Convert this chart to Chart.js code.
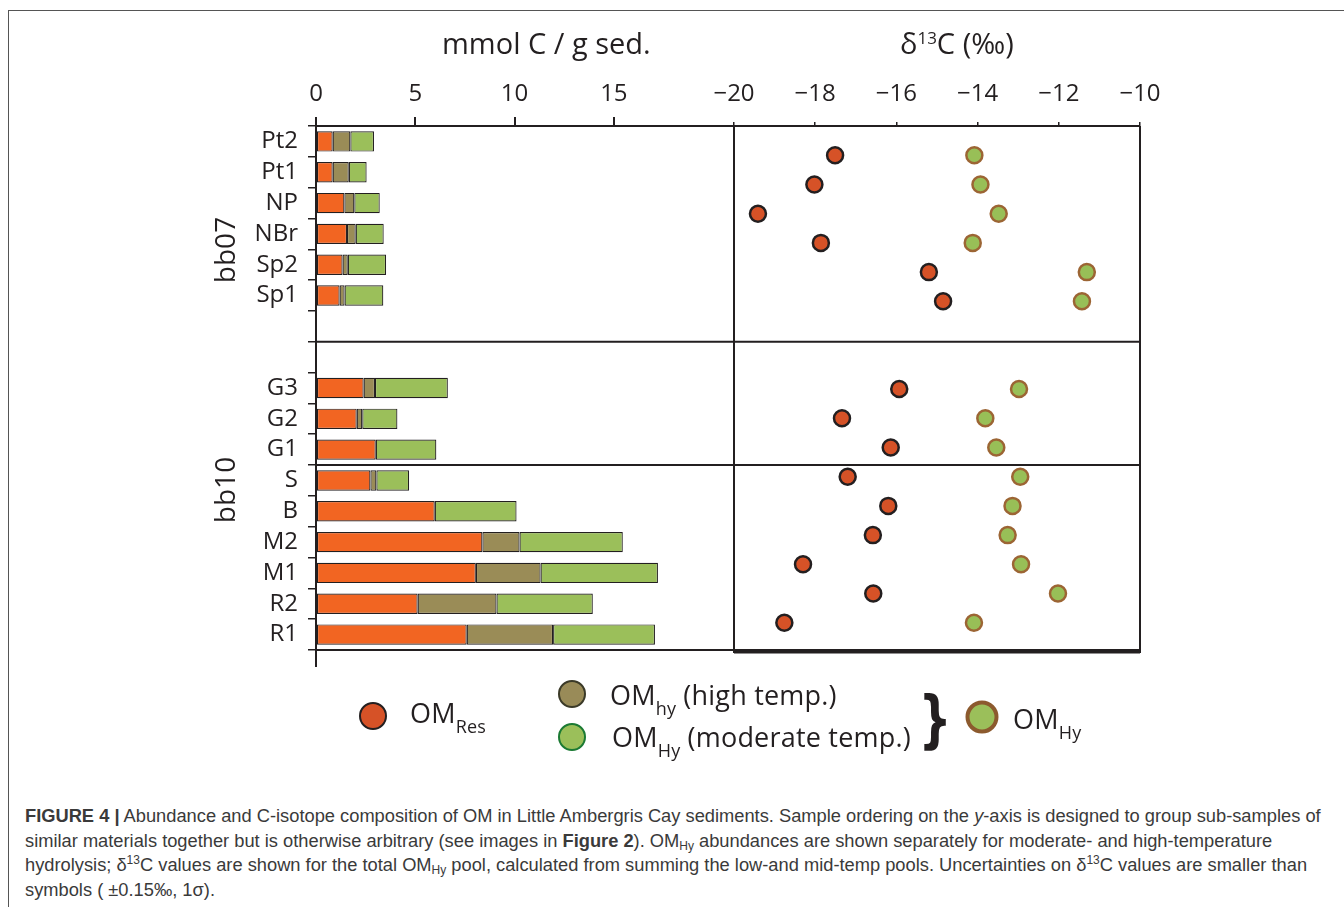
<!DOCTYPE html>
<html>
<head>
<meta charset="utf-8">
<script src="https://cdn.jsdelivr.net/npm/chart.js@4.4.0/dist/chart.umd.min.js"></script>
<style>
  html, body { margin: 0; padding: 0; background: #fff; }
  body { width: 1344px; height: 907px; position: relative; overflow: hidden; font-family: "Open Sans", sans-serif; color: #231f20; }
  .frame { position: absolute; left: 8px; top: 10px; width: 1400px; height: 950px; border-left: 1.5px solid #555; border-top: 1.5px solid #555; }
  canvas { position: absolute; left: 0; top: 0; }
  .axtitle { position: absolute; font-size: 29px; line-height: 34px; white-space: nowrap; }
  .axtitle sup { font-size: 17px; vertical-align: 10px; line-height: 0; }
  .group { position: absolute; font-size: 28px; line-height: 34px; white-space: nowrap; transform: translate(-50%, -50%) rotate(-90deg); }
  .legend { position: absolute; font-size: 27px; line-height: 30px; white-space: nowrap; letter-spacing: 0.2px; }
  .legend sub { font-size: 18px; vertical-align: -10px; line-height: 0; }
  .dot { position: absolute; border-radius: 50%; box-sizing: border-box; transform: translate(-50%, -50%); }
  .brace { position: absolute; font-family: "DejaVu Sans", sans-serif; font-size: 62px; line-height: 70px; font-weight: bold; transform: translate(-50%, -50%) scaleX(0.75); }
  .caption { position: absolute; left: 25px; top: 804px; font-family: "Liberation Sans", Arial, sans-serif; font-size: 18.3px; line-height: 24.6px; color: #3a3a3a; white-space: nowrap; }
  .caption sub { font-size: 12px; vertical-align: -3px; line-height: 0; }
  .caption sup { font-size: 12px; vertical-align: 7px; line-height: 0; }
</style>
</head>
<body>
<div class="frame"></div>
<canvas id="barChart" width="1344" height="700"></canvas>
<canvas id="deltaChart" width="1344" height="700"></canvas>

<div class="axtitle" style="left:442px; top:26px;">mmol C / g sed.</div>
<div class="axtitle" style="left:900px; top:26px;">δ<sup>13</sup>C (‰)</div>
<div class="group" style="left:224px; top:250px;">bb07</div>
<div class="group" style="left:224px; top:490px;">bb10</div>

<!-- legenda -->
<div class="dot" style="left:373px; top:716px; width:28px; height:28px; background:#d65227; border:2px solid #231f20;"></div>
<div class="legend" style="left:410px; top:698px;">OM<sub>Res</sub></div>
<div class="dot" style="left:572px; top:694px; width:28px; height:28px; background:#998b58; border:2px solid #3b3a28;"></div>
<div class="legend" style="left:610px; top:680px;">OM<sub>hy</sub> (high temp.)</div>
<div class="dot" style="left:572px; top:737px; width:28px; height:28px; background:#9bbf5a; border:2px solid #1b7a33;"></div>
<div class="legend" style="left:612px; top:722px;">OM<sub>Hy</sub> (moderate temp.)</div>
<div class="brace" style="left:935px; top:719px;">}</div>
<div class="dot" style="left:982px; top:717px; width:33px; height:33px; background:#9bbf5a; border:4px solid #8c5a2e;"></div>
<div class="legend" style="left:1013px; top:704px;">OM<sub>Hy</sub></div>

<div class="caption">
<b>FIGURE 4 |</b> Abundance and C-isotope composition of OM in Little Ambergris Cay sediments. Sample ordering on the <i>y</i>-axis is designed to group sub-samples of<br>
similar materials together but is otherwise arbitrary (see images in <b>Figure 2</b>). OM<sub>Hy</sub> abundances are shown separately for moderate- and high-temperature<br>
hydrolysis; δ<sup>13</sup>C values are shown for the total OM<sub>Hy</sub> pool, calculated from summing the low-and mid-temp pools. Uncertainties on δ<sup>13</sup>C values are smaller than<br>
symbols ( ±0.15‰, 1σ).
</div>

<script>
// muestras (filas vacias = separacion entre grupos)
const categories = ['Pt2', 'Pt1', 'NP', 'NBr', 'Sp2', 'Sp1', '', '', 'G3', 'G2', 'G1', 'S', 'B', 'M2', 'M1', 'R2', 'R1'];

// abundancias, mmol C / g sed.
const omRes = [0.84, 0.84, 1.43, 1.56, 1.34, 1.19, null, null, 2.40, 2.05, 3.01, 2.74, 5.98, 8.38, 8.05, 5.12, 7.59];
const omHyHigh = [0.89, 0.81, 0.50, 0.44, 0.26, 0.25, null, null, 0.57, 0.28, 0, 0.30, 0, 1.87, 3.26, 3.97, 4.35];
const omHyModerate = [1.19, 0.90, 1.28, 1.41, 1.93, 1.95, null, null, 3.67, 1.77, 3.05, 1.65, 4.12, 5.20, 5.91, 4.85, 5.13];

// d13C (permil)
const d13cRes = [-17.51, -18.02, -19.41, -17.86, -15.20, -14.85, null, null, -15.93, -17.34, -16.14, -17.20, -16.20, -16.58, -18.30, -16.57, -18.76];
const d13cHy = [-14.08, -13.93, -13.48, -14.12, -11.31, -11.43, null, null, -12.98, -13.81, -13.54, -12.95, -13.14, -13.26, -12.93, -12.02, -14.09];

const abundanceTicks = [0, 5, 10, 15];
const deltaTicks = [-20, -18, -16, -14, -12, -10];

const ink = '#231f20';
Chart.defaults.font.family = "'Open Sans', sans-serif";
Chart.defaults.color = ink;

// linea inferior y prolongacion del eje y
const barFrame = {
    id: 'barFrame',
    afterDraw(chart) {
        const ctx = chart.ctx;
        const a = chart.chartArea;
        ctx.save();
        ctx.strokeStyle = ink;
        ctx.lineWidth = 2;
        ctx.beginPath();
        ctx.moveTo(a.left, a.bottom);
        ctx.lineTo(a.right, a.bottom);
        ctx.moveTo(a.left, a.top);
        ctx.lineTo(a.left, a.bottom + 17);
        ctx.stroke();
        ctx.restore();
    }
};

const barChart = new Chart(document.getElementById('barChart'), {
    type: 'bar',
    data: {
        labels: categories,
        datasets: [
            { label: 'OMRes', data: omRes, backgroundColor: '#f26522' },
            { label: 'OMhy (high temp.)', data: omHyHigh, backgroundColor: '#9a8c57' },
            { label: 'OMHy (moderate temp.)', data: omHyModerate, backgroundColor: '#9bbf5a' }
        ]
    },
    options: {
        indexAxis: 'y',
        responsive: false,
        animation: false,
        devicePixelRatio: 1,
        layout: { padding: { left: 0, right: 610, top: 26, bottom: 50 } },
        datasets: {
            bar: { borderColor: ink, borderWidth: 1.2, borderSkipped: false, barPercentage: 0.66, categoryPercentage: 1 }
        },
        plugins: { legend: { display: false }, tooltip: { enabled: false } },
        scales: {
            x: {
                position: 'top',
                stacked: true,
                min: 0,
                max: 21.05,
                afterBuildTicks: s => { s.ticks = abundanceTicks.map(v => ({ value: v })); },
                afterFit: s => { s.height = 100; },
                ticks: { font: { size: 24 }, padding: 8, color: ink, maxRotation: 0 },
                grid: { drawOnChartArea: false, tickLength: 9, color: ink, lineWidth: 2 },
                border: { display: true, color: ink, width: 2 }
            },
            y: {
                stacked: true,
                afterFit: s => { s.width = 316; },
                ticks: { font: { size: 24 }, padding: 10, color: ink, autoSkip: false },
                grid: { offset: true, drawOnChartArea: false, tickLength: 8, color: ink, lineWidth: 1.5 },
                border: { display: true, color: ink, width: 2 }
            }
        }
    },
    plugins: [barFrame]
});

// caja del panel derecho y separadores de grupos
const deltaFrame = {
    id: 'deltaFrame',
    beforeDatasetsDraw(chart) {
        const ctx = chart.ctx;
        const a = chart.chartArea;
        const by = barChart.scales.y;
        const left = barChart.chartArea.left;
        const cuts = [6, 10].map(i => (by.getPixelForValue(i) + by.getPixelForValue(i + 1)) / 2);
        ctx.save();
        ctx.strokeStyle = ink;
        ctx.lineWidth = 2;
        ctx.beginPath();
        ctx.moveTo(a.left, a.top);
        ctx.lineTo(a.left, a.bottom);
        ctx.lineTo(a.right, a.bottom);
        ctx.lineTo(a.right, a.top);
        cuts.forEach(y => {
            ctx.moveTo(left, y);
            ctx.lineTo(a.right, y);
        });
        ctx.moveTo(barChart.chartArea.right, barChart.chartArea.bottom);
        ctx.lineTo(a.right, barChart.chartArea.bottom);
        ctx.stroke();
        ctx.lineWidth = 3;
        ctx.beginPath();
        ctx.moveTo(a.left, a.bottom);
        ctx.lineTo(a.right, a.bottom);
        ctx.stroke();
        ctx.restore();
    }
};

const toPoints = vals => vals.map((v, i) => ({ x: v, y: i })).filter(p => p.x !== null);

new Chart(document.getElementById('deltaChart'), {
    type: 'scatter',
    data: {
        datasets: [
            { label: 'OMRes', data: toPoints(d13cRes), backgroundColor: '#d65227', borderColor: ink },
            { label: 'OMHy', data: toPoints(d13cHy), backgroundColor: '#98bf57', borderColor: '#9c6534' }
        ]
    },
    options: {
        responsive: false,
        animation: false,
        devicePixelRatio: 1,
        layout: { padding: { left: 734, right: 204, top: 26, bottom: 48 } },
        elements: { point: { radius: 8, borderWidth: 2.5 } },
        plugins: { legend: { display: false }, tooltip: { enabled: false } },
        scales: {
            x: {
                type: 'linear',
                position: 'top',
                min: -20,
                max: -10,
                afterFit: s => { s.height = 100; },
                ticks: {
                    stepSize: 1,
                    font: { size: 24 },
                    padding: 13,
                    color: ink,
                    maxRotation: 0,
                    callback: v => deltaTicks.includes(v) ? '\u2212' + Math.abs(v) : ''
                },
                grid: { drawOnChartArea: false, tickLength: 4, color: ink, lineWidth: 1.5 },
                border: { display: true, color: ink, width: 2 }
            },
            y: {
                type: 'linear',
                reverse: true,
                min: -1,
                max: 17,
                display: false
            }
        }
    },
    plugins: [deltaFrame]
});
</script>
</body>
</html>
